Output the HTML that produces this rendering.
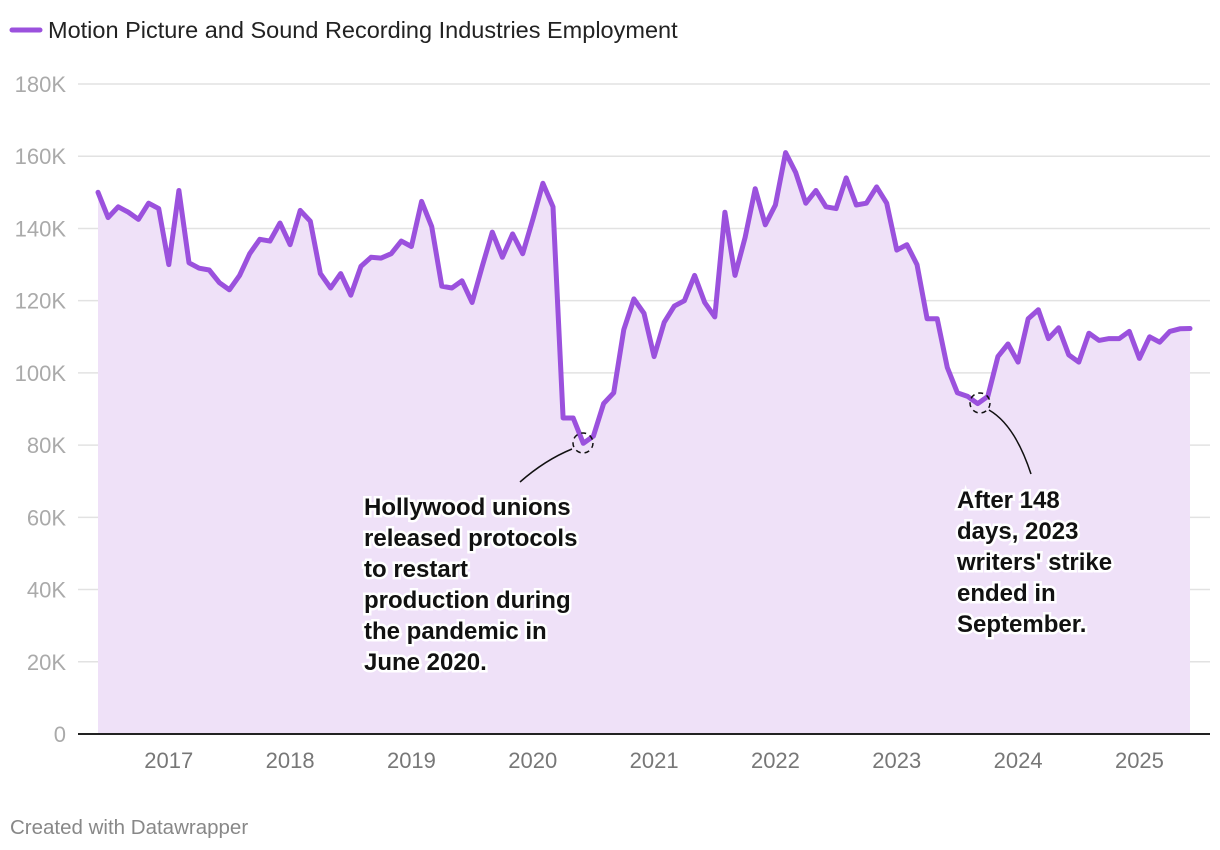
<!DOCTYPE html>
<html><head><meta charset="utf-8"><style>
body{margin:0;background:#fff;font-family:"Liberation Sans",sans-serif;}
svg{display:block}
</style></head><body>
<svg id="c" width="1220" height="850">
<g>
<line x1="12" y1="30" x2="40" y2="30" stroke="#9b51dd" stroke-width="5" stroke-linecap="round"/>
<text x="48" y="38" font-size="23.5" fill="#222">Motion Picture and Sound Recording Industries Employment</text>
</g>
<g id="grid"></g><g id="yl"></g><g id="xl"></g><g id="series"></g>
<g id="ann">
<path d="M520,482 Q545,460 572,449" fill="none" stroke="#111" stroke-width="1.5"/>
<circle cx="583" cy="443" r="10" fill="none" stroke="#111" stroke-width="1.5" stroke-dasharray="5,4"/>
<path d="M1031,474 Q1015,425 989,410" fill="none" stroke="#111" stroke-width="1.5"/>
<circle cx="980" cy="403" r="10" fill="none" stroke="#111" stroke-width="1.5" stroke-dasharray="5,4"/>
<text font-size="24" font-weight="bold" fill="#111" stroke="#fff" stroke-width="5" paint-order="stroke">
<tspan x="364" y="515">Hollywood unions</tspan><tspan x="364" y="546">released protocols</tspan><tspan x="364" y="577">to restart</tspan><tspan x="364" y="608">production during</tspan><tspan x="364" y="639">the pandemic in</tspan><tspan x="364" y="670">June 2020.</tspan></text>
<text font-size="24" font-weight="bold" fill="#111" stroke="#fff" stroke-width="5" paint-order="stroke">
<tspan x="957" y="508">After 148</tspan><tspan x="957" y="539">days, 2023</tspan><tspan x="957" y="570">writers' strike</tspan><tspan x="957" y="601">ended in</tspan><tspan x="957" y="632">September.</tspan></text>
</g>
<text x="10" y="834" font-size="20.5" fill="#888">Created with Datawrapper</text>
</svg>
<script>
const values=[150,143,146,144.5,142.5,147,145.5,130,150.5,130.5,129,128.5,125,123,127,133,137,136.5,141.5,135.5,145,142,127.5,123.5,127.5,121.5,129.5,132,131.8,133,136.5,135,147.5,140.5,124,123.5,125.5,119.5,129.5,139,132,138.5,133,142.5,152.5,146,87.5,87.5,80.5,82.5,91.5,94.5,112,120.5,116.5,104.5,114,118.5,120,127,119.5,115.5,144.5,127,137.5,151,141,146.5,161,155.5,147,150.5,146,145.5,154,146.5,147,151.5,147,134,135.5,130,115,115,101.5,94.5,93.5,91.5,93.5,104.5,108,103,115,117.5,109.5,112.5,105,103,111,109,109.5,109.5,111.5,104,110,108.5,111.5,112.2,112.3];
const startMonth=[2016,5]; // June 2016 (0-based month)
const yTicks=[0,20,40,60,80,100,120,140,160,180];
const yTickLabels=["0","20K","40K","60K","80K","100K","120K","140K","160K","180K"];
const xYears=[2017,2018,2019,2020,2021,2022,2023,2024,2025];
const NS="http://www.w3.org/2000/svg";
const y0=734,y180=84,xL=98,xR=1190;
function ys(v){return y0-(v/180)*(y0-y180);}
function mIdx(year,month){return (year-startMonth[0])*12+(month-startMonth[1]);}
const step=(xR-xL)/(values.length-1);
function xs(i){return xL+i*step;}
function el(t,a,p){const e=document.createElementNS(NS,t);for(const k in a)e.setAttribute(k,a[k]);p.appendChild(e);return e;}
const grid=document.getElementById('grid'),yl=document.getElementById('yl'),xl=document.getElementById('xl'),ser=document.getElementById('series');
yTicks.forEach((t,i)=>{
 if(t!==0){
 const l=el('line',{x1:78,x2:1210,y1:ys(t),y2:ys(t),stroke:'#e2e2e2','stroke-width':1.5},grid);
 
 
 }
 const tx=el('text',{x:66,y:ys(t)+8,'font-size':22,fill:'#aaa','text-anchor':'end'},yl);
 tx.textContent=yTickLabels[i];
 
 
});
xYears.forEach(yr=>{
 const x=xs(mIdx(yr,0));
 const tx=el('text',{x:x,y:768,'font-size':22,fill:'#777','text-anchor':'middle'},xl);
 tx.textContent=yr;
 
 
});
let d='';values.forEach((v,i)=>{d+=(i?'L':'M')+xs(i).toFixed(1)+','+ys(v).toFixed(1);});
const area=el('path',{d:d+'L'+xs(values.length-1)+','+y0+'L'+xL+','+y0+'Z',fill:'#efe1f8'},ser);


const base=el('line',{x1:78,x2:1210,y1:y0,y2:y0,stroke:'#222','stroke-width':2},ser);


const ln=el('path',{d:d,fill:'none',stroke:'#9b51dd','stroke-width':5,'stroke-linejoin':'round','stroke-linecap':'round'},ser);


</script>
</body></html>
